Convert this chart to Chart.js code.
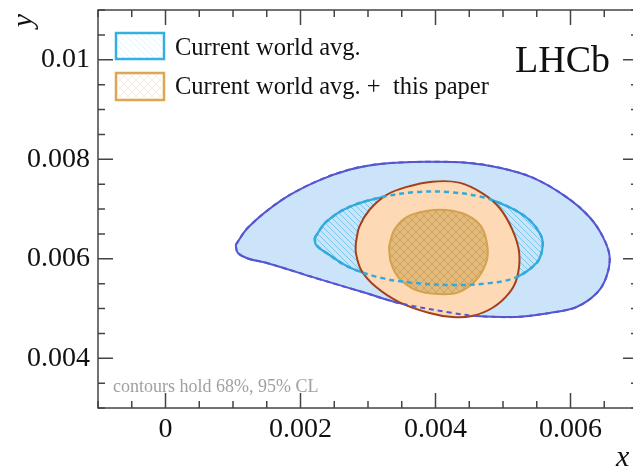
<!DOCTYPE html>
<html>
<head>
<meta charset="utf-8">
<script src="https://cdn.jsdelivr.net/npm/chart.js@4.4.1/dist/chart.umd.min.js"></script>
<style>
html, body { margin: 0; padding: 0; background: #fff; overflow: hidden; }
#wrap { width: 645px; height: 472px; }
</style>
</head>
<body>
<div id="wrap"><canvas id="contours" width="645" height="472"></canvas></div>
<script>
// current world average, 95% contour
var wa95X = [0.00104, 0.00123, 0.00172, 0.00223, 0.00272, 0.00321, 0.00386, 0.00446, 0.00495, 0.00544, 0.00594, 0.00628, 0.00648, 0.00658, 0.00653, 0.00639, 0.00609, 0.00569, 0.00520, 0.00460, 0.00425, 0.00346, 0.00297, 0.00223, 0.00149, 0.00123, 0.00107, 0.00104];
var wa95Y = [0.00628, 0.00664, 0.00718, 0.00755, 0.00779, 0.00791, 0.00795, 0.00793, 0.00783, 0.00763, 0.00724, 0.00684, 0.00644, 0.00604, 0.00563, 0.00531, 0.00503, 0.00491, 0.00483, 0.00485, 0.00491, 0.00511, 0.00531, 0.00561, 0.00592, 0.00600, 0.00612, 0.00628];
// current world average, 68% contour
var wa68X = [0.00221, 0.00238, 0.00272, 0.00321, 0.00371, 0.00420, 0.00469, 0.00509, 0.00539, 0.00557, 0.00558, 0.00550, 0.00520, 0.00480, 0.00425, 0.00371, 0.00321, 0.00272, 0.00238, 0.00223, 0.00221];
var wa68Y = [0.00642, 0.00674, 0.00704, 0.00724, 0.00734, 0.00734, 0.00724, 0.00704, 0.00678, 0.00644, 0.00618, 0.00592, 0.00563, 0.00551, 0.00547, 0.00551, 0.00561, 0.00583, 0.00612, 0.00628, 0.00642];
// world average + this paper, 95% contour
var comb95X = [0.00282, 0.00287, 0.00302, 0.00327, 0.00356, 0.00395, 0.00435, 0.00469, 0.00495, 0.00514, 0.00524, 0.00521, 0.00509, 0.00484, 0.00454, 0.00425, 0.00391, 0.00346, 0.00312, 0.00290, 0.00282, 0.00282];
var comb95Y = [0.00632, 0.00664, 0.00698, 0.00728, 0.00744, 0.00755, 0.00753, 0.00732, 0.00702, 0.00658, 0.00612, 0.00563, 0.00531, 0.00501, 0.00485, 0.00483, 0.00491, 0.00513, 0.00543, 0.00577, 0.00612, 0.00632];
// world average + this paper, 68% contour
var comb68X = [0.00331, 0.00339, 0.00358, 0.00386, 0.00416, 0.00446, 0.00468, 0.00477, 0.00475, 0.00460, 0.00435, 0.00405, 0.00371, 0.00346, 0.00334, 0.00331];
var comb68Y = [0.00624, 0.00658, 0.00684, 0.00696, 0.00698, 0.00688, 0.00664, 0.00624, 0.00592, 0.00557, 0.00533, 0.00529, 0.00537, 0.00561, 0.00592, 0.00624];

var xTickValues = [0, 0.002, 0.004, 0.006];
var xTickLabels = ['0', '0.002', '0.004', '0.006'];
var yTickValues = [0.004, 0.006, 0.008, 0.01];
var yTickLabels = ['0.004', '0.006', '0.008', '0.01'];
var legendLabels = ['Current world avg.', 'Current world avg. +  this paper'];

function pts(xs, ys) {
  return xs.map(function (x, i) { return { x: x, y: ys[i] }; });
}

var canvas = document.getElementById('contours');
var ctx = canvas.getContext('2d');

function hatch(size, bg, color, width, cross) {
  var c = document.createElement('canvas');
  c.width = size; c.height = size;
  var g = c.getContext('2d');
  if (bg) { g.fillStyle = bg; g.fillRect(0, 0, size, size); }
  g.strokeStyle = color;
  g.lineWidth = width;
  g.beginPath();
  g.moveTo(-1, -1); g.lineTo(size + 1, size + 1);
  g.moveTo(-1, size - 1); g.lineTo(1, size + 1);
  g.moveTo(size - 1, -1); g.lineTo(size + 1, 1);
  if (cross) {
    g.moveTo(size + 1, -1); g.lineTo(-1, size + 1);
    g.moveTo(1, -1); g.lineTo(-1, 1);
    g.moveTo(size + 1, size - 1); g.lineTo(size - 1, size + 1);
  }
  g.stroke();
  return ctx.createPattern(c, 'repeat');
}

var blueHatch = hatch(6, null, 'rgba(40,165,220,0.5)', 1, false);
var tanHatch = hatch(8, '#e2ba7c', 'rgba(190,140,70,0.5)', 1, true);
var legBlue = hatch(6, '#ffffff', 'rgba(60,170,225,0.14)', 1, false);
var legTan = hatch(8, '#ffffff', 'rgba(225,160,100,0.2)', 1, true);

var serif = '"Liberation Serif", "DejaVu Serif", serif';

var frame = {
  id: 'frame',
  afterDraw: function (chart) {
    var c = chart.ctx, a = chart.chartArea, xs = chart.scales.x, ys = chart.scales.y;
    c.save();
    c.strokeStyle = '#444';
    c.lineWidth = 1.5;
    c.strokeRect(a.left, a.top, a.right - a.left, a.bottom - a.top);
    c.beginPath();
    var k, p, len;
    for (k = -2; k <= 14; k++) {
      p = xs.getPixelForValue(k * 0.0005);
      len = k % 4 === 0 ? 15 : 7;
      c.moveTo(p, a.bottom); c.lineTo(p, a.bottom - len);
      c.moveTo(p, a.top); c.lineTo(p, a.top + len);
    }
    for (k = 6; k <= 22; k++) {
      p = ys.getPixelForValue(k * 0.0005);
      len = k % 4 === 0 ? 15 : 7;
      c.moveTo(a.left, p); c.lineTo(a.left + len, p);
      c.moveTo(a.right, p); c.lineTo(a.right - len, p);
    }
    c.stroke();

    // legend
    c.lineWidth = 2.5;
    c.fillStyle = legBlue;
    c.fillRect(116, 33, 48, 26);
    c.strokeStyle = '#35aee0';
    c.strokeRect(116, 33, 48, 26);
    c.fillStyle = legTan;
    c.fillRect(116, 73, 48, 27);
    c.strokeStyle = '#dca653';
    c.strokeRect(116, 73, 48, 27);
    c.fillStyle = '#111';
    c.font = '24.5px ' + serif;
    c.textBaseline = 'alphabetic';
    c.textAlign = 'left';
    c.fillText(legendLabels[0], 175, 55);
    c.fillText(legendLabels[1], 175, 94);

    c.font = '38px ' + serif;
    c.fillText('LHCb', 515, 72);

    c.fillStyle = '#a0a0a0';
    c.font = '18px ' + serif;
    c.fillText('contours hold 68%, 95% CL', 113, 392);

    // axis titles
    c.fillStyle = '#111';
    c.font = 'italic 30px ' + serif;
    c.fillText('x', 616, 466);
    c.translate(32, 14);
    c.rotate(-Math.PI / 2);
    c.textAlign = 'right';
    c.fillText('y', 0, 0);
    c.restore();
  }
};

var contour = function (label, data, color, width, fill, dash) {
  return {
    label: label,
    data: data,
    showLine: true,
    borderColor: color,
    borderWidth: width,
    borderDash: dash || [],
    backgroundColor: fill || 'transparent',
    fill: fill ? 'shape' : false,
    tension: 0.35,
    pointRadius: 0,
    pointHoverRadius: 0
  };
};

var sets = [
  contour('world avg 95%', pts(wa95X, wa95Y), '#5656d2', 2, '#cce4f9'),
  contour('world avg 68%', pts(wa68X, wa68Y), '#33aadd', 2.2, blueHatch),
  contour('combined 95%', pts(comb95X, comb95Y), '#a3401c', 2, '#fdd9b5'),
  contour('combined 68%', pts(comb68X, comb68Y), '#d4a24c', 2, tanHatch),
  contour('world avg 95% (behind)', pts(wa95X, wa95Y), '#5656d2', 2, null, [5, 4]),
  contour('world avg 68% (behind)', pts(wa68X, wa68Y), '#33aadd', 2.5, null, [5, 4])
];
sets.forEach(function (d, i) { d.order = sets.length - i; });

function noPad(s) {
  s.paddingTop = 0; s.paddingBottom = 0; s.paddingLeft = 0; s.paddingRight = 0;
}

var myChart = new Chart(canvas, {
  type: 'scatter',
  data: { datasets: sets },
  options: {
    responsive: false,
    animation: false,
    devicePixelRatio: 1,
    layout: { padding: { top: 10, right: 7, left: 0, bottom: 0 } },
    plugins: { legend: { display: false }, tooltip: { enabled: false } },
    scales: {
      x: {
        type: 'linear',
        min: -0.001,
        max: 0.007,
        grid: { display: false, drawTicks: false },
        border: { display: false },
        afterBuildTicks: function (s) { s.ticks = xTickValues.map(function (v) { return { value: v }; }); },
        afterFit: function (s) { s.height = 64; noPad(s); },
        ticks: {
          autoSkip: false,
          maxRotation: 0,
          padding: 5,
          color: '#111',
          font: { family: serif, size: 28 },
          callback: function (v) { return xTickLabels[xTickValues.indexOf(v)]; }
        }
      },
      y: {
        type: 'linear',
        min: 0.003,
        max: 0.011,
        grid: { display: false, drawTicks: false },
        border: { display: false },
        afterBuildTicks: function (s) { s.ticks = yTickValues.map(function (v) { return { value: v }; }); },
        afterFit: function (s) { s.width = 98; noPad(s); },
        ticks: {
          autoSkip: false,
          padding: 8,
          color: '#111',
          font: { family: serif, size: 28 },
          callback: function (v) { return yTickLabels[yTickValues.indexOf(v)]; }
        }
      }
    }
  },
  plugins: [frame]
});
</script>
</body>
</html>
